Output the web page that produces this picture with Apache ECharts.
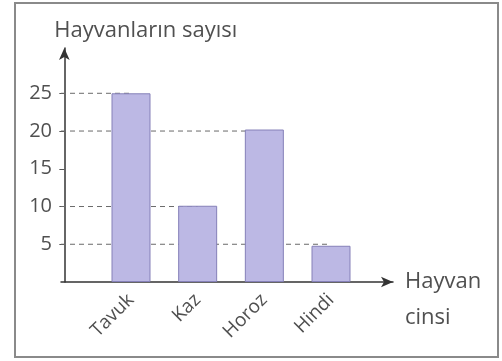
<!DOCTYPE html>
<html><head><meta charset="utf-8">
<script src="https://cdn.jsdelivr.net/npm/echarts@6/dist/echarts.min.js"></script>
<style>html,body{margin:0;padding:0;background:#fff}#c{width:502px;height:361px}</style>
</head><body><div id="c"></div>
<script>
const categories = ['Tavuk', 'Kaz', 'Horoz', 'Hindi'];
const positions = [1, 2, 3, 4];
const values = [25, 10.1, 20.2, 4.8];
const guideValues = [25, 10, 20, 5];
const yTicks = [5, 10, 15, 20, 25];
const yAxisName = 'Hayvanların sayısı';
const xAxisName = 'Hayvan\ncinsi';

const font = '"Open Sans", "Noto Sans", sans-serif';
const textColor = '#505050';
const xMin = -0.05, xMax = 4.93;

const guideSeries = positions.map((p, i) => ({
  type: 'line', z: 1, silent: true, symbol: 'none',
  lineStyle: { color: '#6a6a6a', width: 1, type: [5, 4] },
  data: [[xMin, guideValues[i]], [p, guideValues[i]]]
}));

const chart = echarts.init(document.getElementById('c'), null, { renderer: 'canvas' });
chart.setOption({
  animation: false,
  graphic: [{
    type: 'rect', shape: { x: 15, y: 3, width: 483, height: 354 },
    style: { fill: 'none', stroke: '#8a8a8a', lineWidth: 2 }, z: 0
  }],
  grid: { left: 61, top: 48, width: 332, bottom: 79 },
  xAxis: {
    type: 'value', min: xMin, max: xMax,
    name: xAxisName, nameLocation: 'end', nameGap: 12,
    nameTextStyle: { fontFamily: font, fontSize: 22, color: textColor, align: 'left', verticalAlign: 'top', lineHeight: 36, padding: [-18, 0, 0, 0] },
    splitLine: { show: false },
    axisLine: { lineStyle: { color: '#333', width: 1.5 }, symbol: ['none', 'arrow'], symbolSize: [8, 12] },
    axisTick: { show: false },
    axisLabel: {
      customValues: positions,
      formatter: v => categories[positions.indexOf(v)] || '',
      rotate: 45, fontFamily: font, fontSize: 19, color: textColor, margin: 15
    }
  },
  yAxis: {
    type: 'value', min: 0, max: 31,
    name: yAxisName, nameLocation: 'end', nameGap: 6,
    nameTextStyle: { fontFamily: font, fontSize: 22, color: textColor, align: 'left', padding: [0, 0, 0, -10] },
    splitLine: { show: false },
    axisLine: { lineStyle: { color: '#333', width: 1.5 }, symbol: ['none', 'arrow'], symbolSize: [8, 12] },
    axisTick: { show: true, customValues: yTicks, length: 5, lineStyle: { color: '#555' } },
    axisLabel: { customValues: yTicks, fontFamily: font, fontSize: 20, color: textColor, margin: 9 }
  },
  series: guideSeries.concat([{
    type: 'bar', z: 3, barWidth: 39,
    itemStyle: { color: '#bcb8e4', borderColor: '#8580b8', borderWidth: 1 },
    data: positions.map((p, i) => [p, values[i]])
  }])
});
</script></body></html>
